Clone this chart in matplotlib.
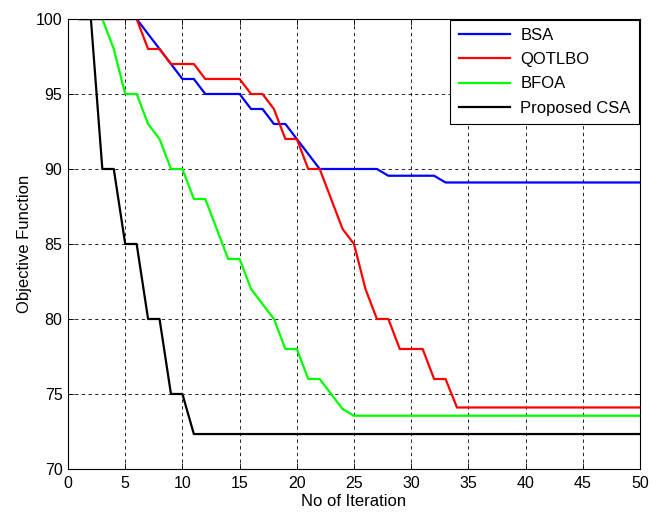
import matplotlib
matplotlib.use('Agg')
import matplotlib.pyplot as plt
import numpy as np

iterations = list(range(1, 51))

# values at each iteration
bsa = [100, 100, 100, 100, 100, 100, 99, 98, 97, 96,
       96, 95, 95, 95, 95, 94, 94, 93, 93, 92,
       91, 90, 90, 90, 90, 90, 90, 89.55, 89.55, 89.55,
       89.55, 89.55, 89.1] + [89.1] * 17
qotlbo = [100, 100, 100, 100, 100, 100, 98, 98, 97, 97,
          97, 96, 96, 96, 96, 95, 95, 94, 92, 92,
          90, 90, 88, 86, 85, 82, 80, 80, 78, 78,
          78, 76, 76, 74.1] + [74.1] * 16
bfoa = [100, 100, 100, 98, 95, 95, 93, 92, 90, 90,
        88, 88, 86, 84, 84, 82, 81, 80, 78, 78,
        76, 76, 75, 74, 73.55] + [73.55] * 25
csa = [100, 100, 90, 90, 85, 85, 80, 80, 75, 75,
       72.33] + [72.33] * 39

plt.rcParams['font.family'] = ['Liberation Sans', 'DejaVu Sans']

fig = plt.figure(figsize=(6.59, 5.13), dpi=100)
ax = fig.add_axes([0.1032, 0.0858, 0.8680, 0.8772])

ax.plot(iterations, bsa, color='#0000ff', lw=1.6, label='BSA')
ax.plot(iterations, qotlbo, color='#ff0000', lw=1.6, label='QOTLBO')
ax.plot(iterations, bfoa, color='#00ff00', lw=1.6, label='BFOA')
ax.plot(iterations, csa, color='black', lw=1.6, label='Proposed CSA')

ax.set_xlim(0, 50)
ax.set_ylim(70, 100)
ax.set_xticks(np.arange(0, 51, 5))
ax.set_yticks(np.arange(70, 101, 5))
ax.grid(True, color='black', linestyle=(0, (4, 4)), linewidth=0.6)
ax.tick_params(direction='in', top=True, right=True, length=4, width=0.6,
               labelsize=11.5)
ax.tick_params(axis='x', pad=5)
ax.tick_params(axis='y', pad=4)
for s in ax.spines.values():
    s.set_linewidth(0.8)

ax.set_xlabel('No of Iteration', fontsize=12, labelpad=2)
ax.set_ylabel('Objective Function', fontsize=12, labelpad=3)

leg = ax.legend(loc='upper right', fancybox=False, edgecolor='black',
                framealpha=1, borderaxespad=0.05, handlelength=3.1,
                fontsize=12, labelspacing=0.55, borderpad=0.5, handletextpad=0.6)
leg.get_frame().set_linewidth(0.8)

plt.savefig('out.png', dpi=100)
